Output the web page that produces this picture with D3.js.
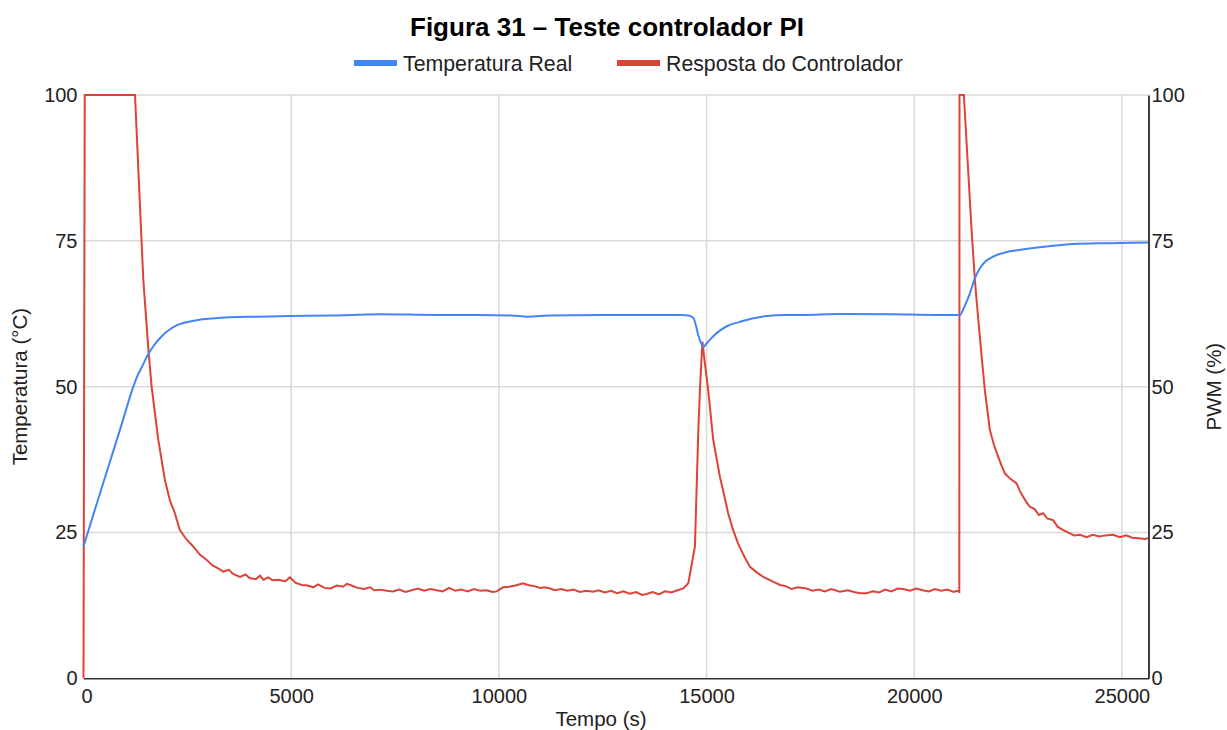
<!DOCTYPE html>
<html>
<head>
    <title>Figura 31 – Teste controlador PI</title>
    <script src="https://cdnjs.cloudflare.com/ajax/libs/d3/7.8.5/d3.min.js"></script>
    <style>
        body { margin: 0; background: #fff; font-family: Arial, "Liberation Sans", sans-serif; }
        svg { display: block; }
        .grid line { stroke: #d9d9d9; stroke-width: 1.5px; }
        .tick text { fill: #222; }
    </style>
</head>
<body>
    <svg width="1227" height="730"></svg>

    <script>
        // Temperatura Real: [tempo (s), °C]
        const tempTime = [0, 300, 600, 900, 1200, 1300, 1400, 1560, 1700, 1840, 2000, 2240, 2450, 2725, 3100, 3525,
            4200, 4970, 6000, 7140, 8500, 9500, 10300, 10700, 11200, 12500, 13500, 14400, 14560, 14680, 14740, 14800,
            14860, 14920, 15000, 15100, 15200, 15320, 15500, 15800, 16100, 16450, 16900, 17300, 18210, 19500, 20500,
            21100, 21200, 21340, 21450, 21580, 21720, 21900, 22225, 22600, 23025, 23400, 23830, 24700, 25630];
        const tempValues = [22.6, 29.5, 36.3, 43.1, 50.0, 51.9, 53.3, 55.6, 57.1, 58.3, 59.4, 60.5, 61.0, 61.4, 61.7, 61.9,
            62.0, 62.1, 62.2, 62.4, 62.3, 62.3, 62.2, 62.0, 62.2, 62.3, 62.3, 62.3, 62.2, 61.8, 60.6, 58.8,
            57.6, 56.8, 57.4, 58.2, 58.9, 59.6, 60.4, 61.1, 61.7, 62.1, 62.3, 62.3, 62.45, 62.4, 62.3,
            62.3, 63.6, 66.0, 68.4, 70.3, 71.5, 72.3, 73.1, 73.5, 73.9, 74.2, 74.45, 74.6, 74.7];

        // Resposta do Controlador: [tempo (s), PWM %]
        const pwmTime = [0, 30, 1240, 1440, 1560, 1640, 1800, 1960, 2080, 2200, 2320, 2480, 2640, 2800, 2965, 3100,
            3250, 3365, 3500, 3600, 3770, 3900, 4000, 4150, 4250, 4330, 4450, 4550, 4700, 4850, 4970, 5100, 5250,
            5400, 5530, 5650, 5800, 5950, 6100, 6250, 6340, 6450, 6600, 6750, 6900, 7000, 7140, 7300, 7450, 7600,
            7750, 7900, 8050, 8200, 8350, 8500, 8650, 8800, 8950, 9100, 9250, 9400, 9550, 9700, 9850, 9950, 10100,
            10250, 10400, 10580, 10700, 10850, 11000, 11100, 11230, 11350, 11500, 11650, 11800, 11950, 12100, 12270,
            12400, 12550, 12700, 12850, 13000, 13150, 13300, 13450, 13560, 13700, 13850, 14000, 14150, 14300, 14440,
            14560, 14680, 14720, 14760, 14800, 14840, 14900, 14960, 15040, 15160, 15320, 15420, 15520, 15640, 15760,
            15900, 16045, 16200, 16365, 16500, 16650, 16770, 16900, 17050, 17200, 17410, 17550, 17700, 17850, 18000,
            18210, 18400, 18550, 18700, 18860, 19000, 19150, 19300, 19450, 19600, 19740, 19900, 20050, 20200, 20350,
            20500, 20650, 20800, 20950, 21030, 21085, 21090, 21195, 21380, 21460, 21500, 21620, 21700, 21820, 21920,
            22020, 22100, 22185, 22300, 22465, 22550, 22625, 22700, 22785, 22900, 23000, 23105, 23200, 23345, 23450,
            23585, 23700, 23850, 23990, 24150, 24300, 24450, 24600, 24790, 24950, 25100, 25250, 25400, 25550, 25630];
        const pwmValues = [0, 100, 100, 68.3, 56.6, 50, 40.9, 34, 30.5, 28.3, 25.4, 23.8, 22.6, 21.2, 20.3, 19.4,
            18.8, 18.3, 18.6, 17.9, 17.4, 17.8, 17.2, 17.0, 17.6, 16.9, 17.3, 16.8, 16.9, 16.6, 17.3, 16.4, 16.0,
            15.9, 15.6, 16.1, 15.5, 15.4, 15.9, 15.7, 16.2, 15.9, 15.5, 15.3, 15.6, 15.1, 15.2, 15.0, 14.9, 15.2,
            14.8, 15.1, 15.4, 15.0, 15.3, 15.1, 14.9, 15.5, 15.0, 15.2, 14.9, 15.3, 15.0, 15.1, 14.8, 14.9, 15.6,
            15.7, 15.9, 16.3, 16.0, 15.8, 15.5, 15.6, 15.4, 15.1, 15.3, 15.0, 15.2, 14.8, 15.0, 14.85,
            15.1, 14.7, 15.0, 14.6, 14.9, 14.5, 14.8, 14.3, 14.45, 14.8, 14.4, 14.9, 14.7, 15.1, 15.4,
            16.3, 21.0, 22.6, 32.3, 42, 49.4, 57.7, 54, 49.4, 40.9, 34.6, 31.5, 28.3, 25.4, 23.1,
            21.0, 19.1, 18.2, 17.4, 16.9, 16.4, 16.0, 15.8, 15.3, 15.6, 15.4, 15.0, 15.2, 14.9, 15.3,
            14.85, 15.1, 14.8, 14.6, 14.6, 14.9, 14.7, 15.2, 14.9, 15.4, 15.3, 15.0, 15.4, 15.1, 14.9,
            15.3, 15.0, 15.2, 14.8, 15.0, 14.8, 100, 100, 76.9, 68.3, 64.9, 55.4, 49.4, 42.6, 40.0,
            38.0, 36.5, 35.1, 34.3, 33.4, 32.0, 31.1, 30.2, 29.4, 29.0, 28.0, 28.3, 27.4, 27.1, 26.0,
            25.4, 25.0, 24.5, 24.6, 24.2, 24.6, 24.3, 24.5, 24.6, 24.2, 24.5, 24.1, 24.0, 23.9, 24.0];

        const xTicks = [0, 5000, 10000, 15000, 20000, 25000];
        const yTicks = [0, 25, 50, 75, 100];

        const svg = d3.select("svg");
        const plotLeft = 83.5, plotRight = 1148.5, plotTop = 95, plotBottom = 678.3;
        const font = "Arial, 'Liberation Sans', sans-serif";

        const x = d3.scaleLinear().domain([0, 25640]).range([plotLeft, plotRight]);
        const yTemp = d3.scaleLinear().domain([0, 100]).range([plotBottom, plotTop]);
        const yPwm = d3.scaleLinear().domain([0, 100]).range([plotBottom, plotTop]);

        // grid
        const grid = svg.append("g").attr("class", "grid");
        grid.selectAll(".h").data(yTicks.slice(1)).enter().append("line")
            .attr("x1", plotLeft).attr("x2", plotRight)
            .attr("y1", d => yTemp(d)).attr("y2", d => yTemp(d));
        grid.selectAll(".v").data(xTicks.slice(1)).enter().append("line")
            .attr("x1", d => x(d)).attr("x2", d => x(d))
            .attr("y1", plotTop).attr("y2", plotBottom);

        // axes
        const xAxis = svg.append("g").attr("transform", `translate(0,${plotBottom})`)
            .call(d3.axisBottom(x).tickValues(xTicks).tickFormat(d3.format("d")).tickSize(0).tickPadding(9));
        xAxis.select(".domain").attr("stroke", "#333").attr("stroke-width", 1.5);
        xAxis.selectAll("text").attr("font-size", 20).attr("font-family", font)
            .attr("dy", "0.8em")
            .attr("dx", d => d === 0 ? 3 : 0);

        const yAxisL = svg.append("g").attr("transform", `translate(${plotLeft},0)`)
            .call(d3.axisLeft(yTemp).tickValues(yTicks).tickSize(0).tickPadding(6));
        yAxisL.select(".domain").remove();
        yAxisL.selectAll("text").attr("font-size", 20).attr("font-family", font);

        const yAxisR = svg.append("g").attr("transform", `translate(${plotRight},0)`)
            .call(d3.axisRight(yPwm).tickValues(yTicks).tickSize(0).tickPadding(3));
        yAxisR.select(".domain").attr("stroke", "#000").attr("stroke-width", 1.5);
        yAxisR.selectAll("text").attr("font-size", 20).attr("font-family", font);

        // series
        const tempLine = d3.line().x(d => x(d[0])).y(d => yTemp(d[1])).curve(d3.curveMonotoneX);
        const pwmLine = d3.line().x(d => x(d[0])).y(d => yPwm(d[1]));

        svg.append("path").datum(pwmTime.map((t, i) => [t, pwmValues[i]]))
            .attr("d", pwmLine).attr("fill", "none")
            .attr("stroke", "#DB4437").attr("stroke-width", 2);
        svg.append("path").datum(tempTime.map((t, i) => [t, tempValues[i]]))
            .attr("d", tempLine).attr("fill", "none")
            .attr("stroke", "#4285F4").attr("stroke-width", 2);

        // titles
        svg.append("text").attr("x", 607).attr("y", 36).attr("text-anchor", "middle")
            .attr("font-size", 26).attr("font-weight", "bold").attr("fill", "#000")
            .attr("font-family", font)
            .text("Figura 31 – Teste controlador PI");

        const legend = [
            { name: "Temperatura Real", color: "#4285F4", x: 354 },
            { name: "Resposta do Controlador", color: "#DB4437", x: 617 }
        ];
        const lg = svg.append("g").selectAll("g").data(legend).enter().append("g")
            .attr("transform", d => `translate(${d.x},63)`);
        lg.append("rect").attr("x", 0).attr("y", -3).attr("width", 43).attr("height", 6)
            .attr("fill", d => d.color);
        lg.append("text").attr("x", 49).attr("y", 7.5).attr("font-size", 21.3).attr("fill", "#222")
            .attr("font-family", font)
            .text(d => d.name);

        svg.append("text").attr("x", 601).attr("y", 726).attr("text-anchor", "middle")
            .attr("font-size", 20.5).attr("fill", "#222").attr("font-family", font).text("Tempo (s)");
        svg.append("text").attr("transform", `translate(27,${(plotTop + plotBottom) / 2}) rotate(-90)`)
            .attr("text-anchor", "middle").attr("font-size", 20.5).attr("fill", "#222")
            .attr("font-family", font).text("Temperatura (°C)");
        svg.append("text").attr("transform", `translate(1221,${(plotTop + plotBottom) / 2}) rotate(-90)`)
            .attr("text-anchor", "middle").attr("font-size", 20.5).attr("fill", "#222")
            .attr("font-family", font).text("PWM (%)");
    </script>
</body>
</html>
